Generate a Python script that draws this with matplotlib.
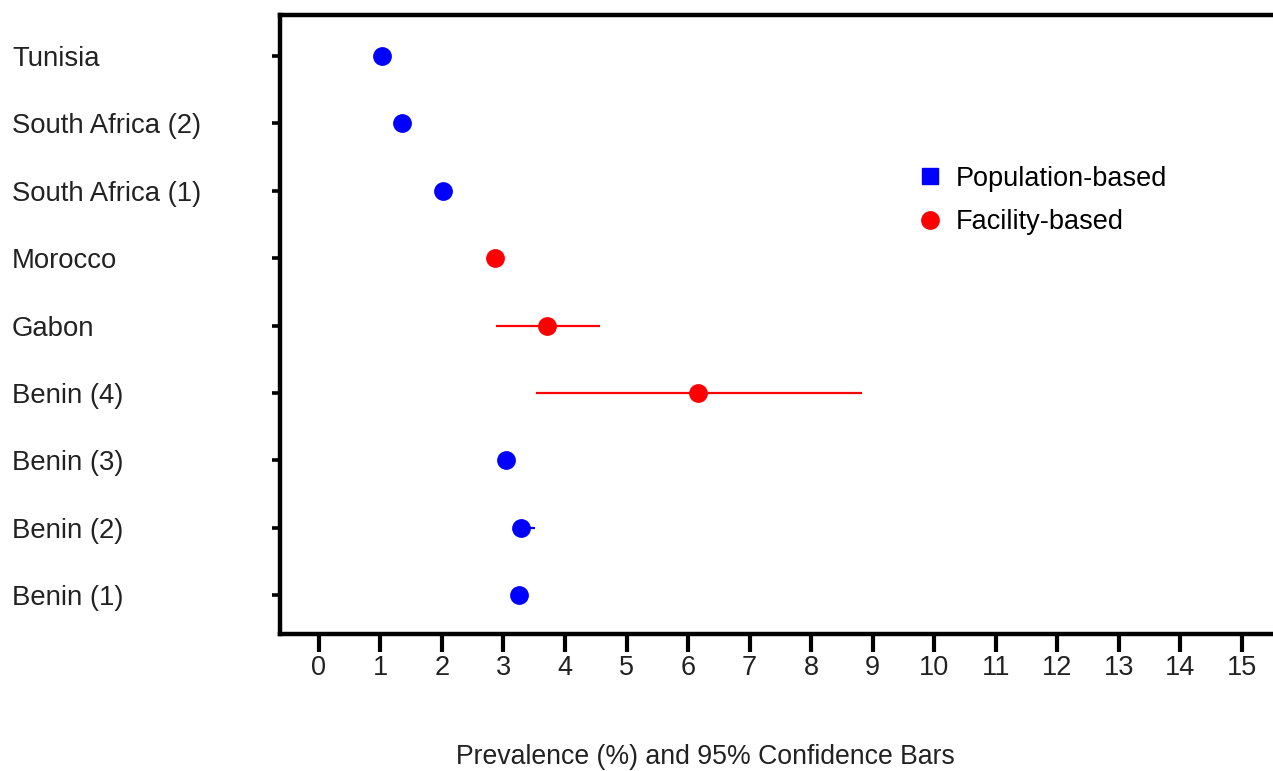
import matplotlib
matplotlib.use("Agg")
import matplotlib.pyplot as plt
from matplotlib.lines import Line2D

plt.rcParams['font.family'] = ['Liberation Sans', 'DejaVu Sans']

countries = ["Benin (1)", "Benin (2)", "Benin (3)", "Benin (4)", "Gabon",
             "Morocco", "South Africa (1)", "South Africa (2)", "Tunisia"]
prevalence = [3.25, 3.28, 3.04, 6.16, 3.71, 2.86, 2.02, 1.35, 1.02]
ci_low = [3.18, 3.18, 2.97, 3.53, 2.88, 2.80, 1.96, 1.29, 0.96]
ci_high = [3.32, 3.51, 3.11, 8.83, 4.57, 2.92, 2.08, 1.41, 1.08]
study_type = ["Population-based", "Population-based", "Population-based",
              "Facility-based", "Facility-based", "Facility-based",
              "Population-based", "Population-based", "Population-based"]
type_colors = {"Population-based": "#0000ff", "Facility-based": "#ff0000"}
xticks = list(range(0, 16))

W, H = 1273, 771
fs = 19.8
fig = plt.figure(figsize=(W / 100, H / 100), dpi=100)
ax = fig.add_axes([280 / W, 1 - 634 / H, (1282 - 280) / W, (634 - 15) / H])

for i, (p, lo, hi, t) in enumerate(zip(prevalence, ci_low, ci_high, study_type)):
    c = type_colors[t]
    y = i + 1
    ax.plot([lo, hi], [y, y], color=c, lw=1.6, solid_capstyle='butt', zorder=2)
    ax.plot([p], [y], marker='o', ms=12.5, color=c, mec=c, zorder=3)

ax.set_xlim(-0.63, 15.65)
ax.set_ylim(0.42, 9.61)
ax.set_xticks(xticks)
ax.set_xticklabels([str(v) for v in xticks], fontsize=19.5, color='#222222')
ax.set_yticks(range(1, len(countries) + 1))
ax.set_yticklabels(countries, fontsize=fs, color='#222222')
for lab in ax.get_yticklabels():
    lab.set_horizontalalignment('left')

for s in ['left', 'top', 'bottom', 'right']:
    ax.spines[s].set_linewidth(3.2)
    ax.spines[s].set_color('black')

ax.tick_params(axis='y', length=6, width=2.6, direction='out', pad=187)
ax.tick_params(axis='x', length=13, width=3, direction='out', pad=2)

handles = [Line2D([], [], marker='s', ls='none', ms=11.5, color='#0000ff', label='Population-based'),
           Line2D([], [], marker='o', ls='none', ms=12.5, color='#ff0000', label='Facility-based')]
ax.legend(handles=handles, loc='upper left', bbox_to_anchor=(900 / W, 1 - 152 / H),
          bbox_transform=fig.transFigure, frameon=False, fontsize=19.5,
          handletextpad=0.35, labelspacing=0.65, borderpad=0, handlelength=1.2)

fig.text(705 / W, 1 - 757 / H, "Prevalence (%) and 95% Confidence Bars",
         ha='center', va='center', fontsize=19.2, color='#222222')

fig.savefig("out.png", dpi=100)
